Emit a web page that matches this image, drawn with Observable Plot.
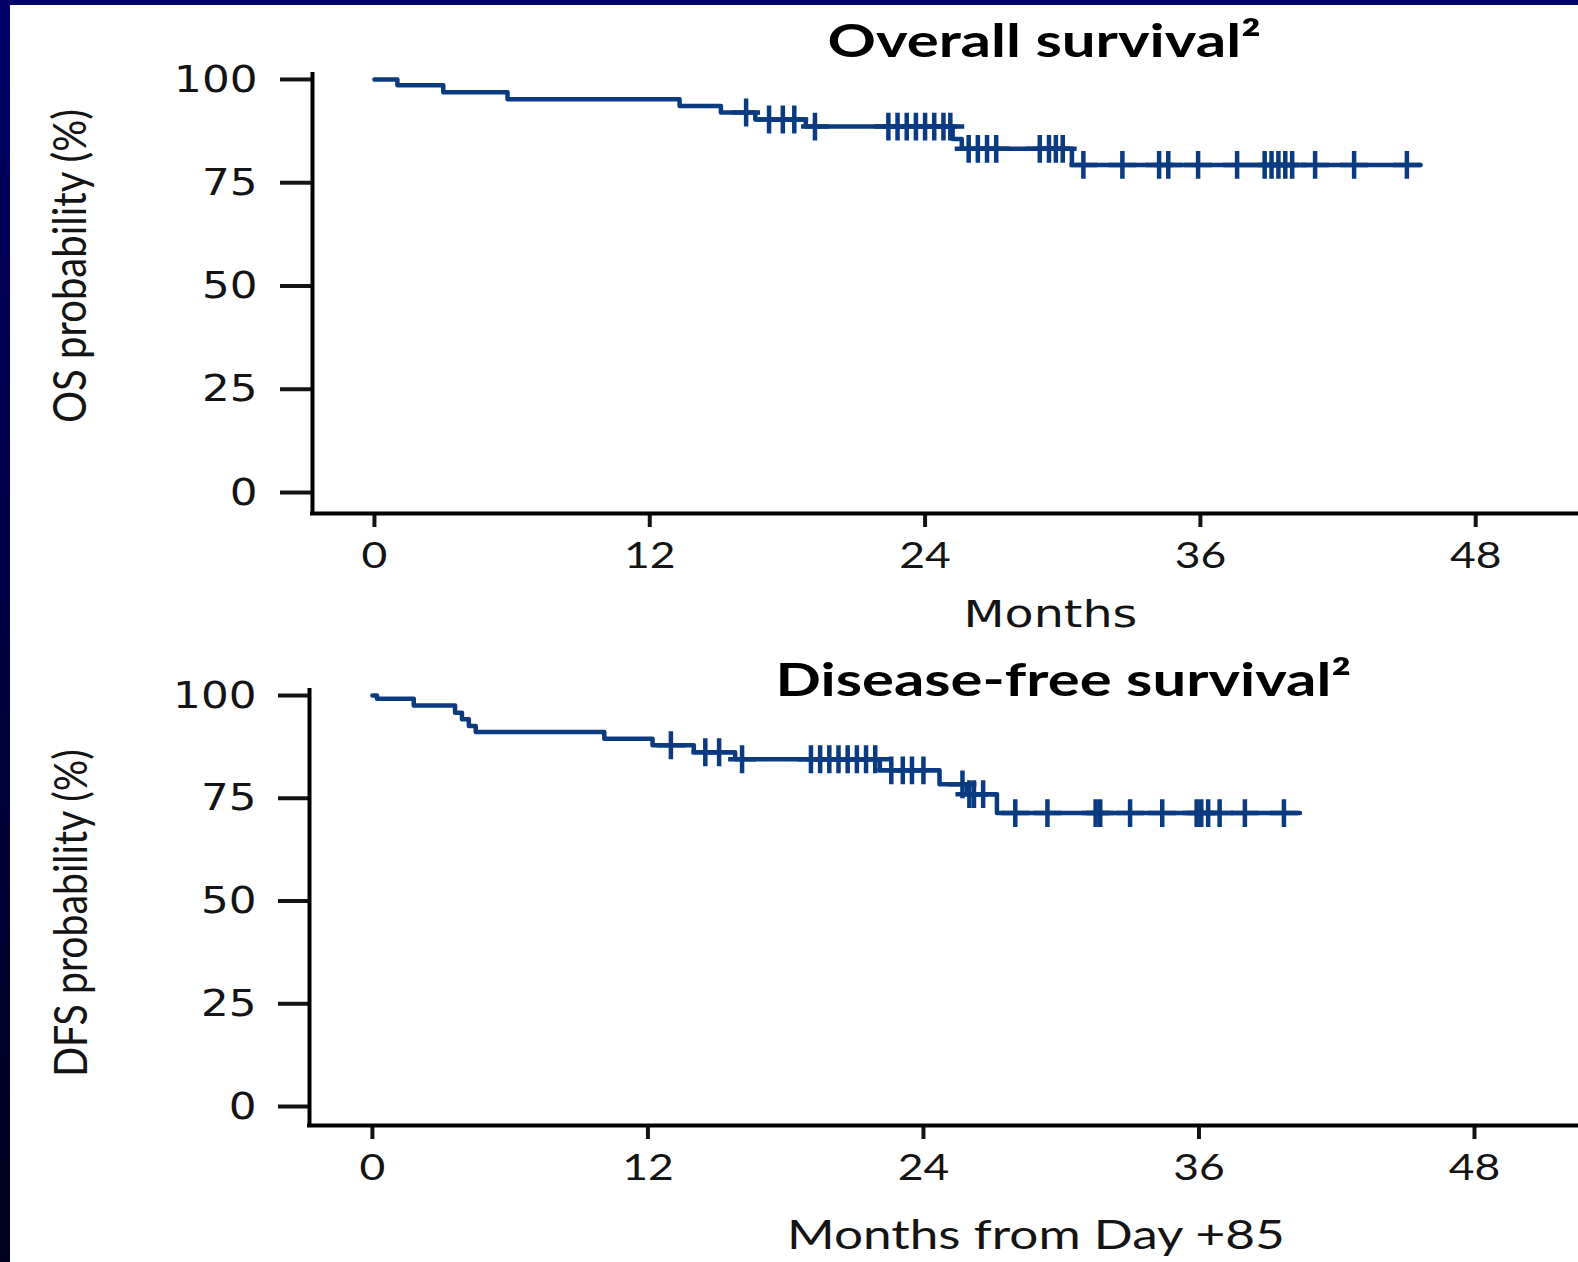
<!DOCTYPE html>
<html><head><meta charset="utf-8">
<script src="https://cdn.jsdelivr.net/npm/d3@7"></script>
<script src="https://cdn.jsdelivr.net/npm/@observablehq/plot@0.6"></script>
<style>
html,body{margin:0;padding:0;background:#fff;}
#page{position:relative;width:1578px;height:1262px;overflow:hidden;background:#fff;}
#topbar{position:absolute;left:0;top:0;width:1578px;height:5px;background:#000066;}
#leftbar{position:absolute;left:0;top:0;width:10px;height:1262px;background:linear-gradient(#000066,#00001e);}
.lbl{position:absolute;white-space:nowrap;color:#141414;line-height:1;transform-origin:center center;}
.panel{position:absolute;left:0;}
</style></head><body>
<div id="page"><div id="topbar"></div><div id="leftbar"></div></div>
<script>
// ---- data ----
const monthTicks = [0, 12, 24, 36, 48];
const pctTicks = [0, 25, 50, 75, 100];

const osTime = [0, 1.0, 3.0, 5.8, 13.3, 15.1, 16.6, 18.8, 25.2, 25.6, 30.4];
const osSurv = [100, 98.6, 96.9, 95.2, 93.6, 92.0, 90.3, 88.6, 85.6, 83.2, 79.3];
const osEnd = 45.6;
const osCensor = [16.2, 17.2, 17.8, 18.3, 19.2, 22.4, 22.8, 23.2, 23.6, 24.0, 24.4, 24.8, 25.1,
  25.9, 26.3, 26.7, 27.1, 29.0, 29.4, 29.7, 30.0, 30.9, 32.6, 34.2, 34.6, 35.9, 37.6,
  38.8, 39.1, 39.4, 39.7, 40.0, 41.0, 42.7, 45.0];

const dfsTime = [0, 0.2, 1.8, 3.6, 3.9, 4.2, 4.5, 10.1, 12.2, 14.0, 15.8, 22.1, 24.7, 25.9, 27.2];
const dfsSurv = [100, 99.2, 97.6, 95.8, 94.2, 92.6, 91.1, 89.5, 87.9, 86.2, 84.5, 81.8, 78.4, 76.0, 71.4];
const dfsEnd = 40.4;
const dfsCensor = [13.0, 14.5, 15.1, 16.1, 19.1, 19.5, 19.9, 20.3, 20.7, 21.1, 21.5, 21.9,
  22.6, 23.1, 23.5, 24.0, 25.7, 26.0, 26.2, 26.6, 28.0, 29.4, 31.5, 31.7, 33.0, 34.4,
  35.9, 36.1, 36.4, 36.9, 38.0, 39.7];

const titles = ["Overall survival\u00b2", "Disease-free survival\u00b2"];
const xLabels = ["Months", "Months from Day +85"];
const yLabels = ["OS probability (%)", "DFS probability (%)"];

// ---- drawing ----
const COLOR = "#0a3a80";
const page = document.getElementById("page");

function survAt(times, surv, t) {
  let v = surv[0];
  for (let i = 0; i < times.length; i++) if (times[i] <= t) v = surv[i];
  return v;
}

function stretchText(svg, sel, sx, anchor) {
  svg.querySelectorAll(sel).forEach(t => {
    const b = t.getBBox();
    const ax = anchor === "end" ? b.x + b.width : b.x + b.width / 2;
    const ay = b.y + b.height / 2;
    const tr = t.getAttribute("transform") || "";
    t.setAttribute("transform", `${tr} translate(${ax},${ay}) scale(${sx},1) translate(${-ax},${-ay})`);
  });
}

function km(times, surv, end, censor, cfg) {
  const steps = times.map((t, i) => ({t, s: surv[i]}));
  steps.push({t: end, s: surv[surv.length - 1]});
  const cens = censor.map(t => ({t, s: survAt(times, surv, t)}));
  const svg = Plot.plot({
    width: 1578, height: cfg.height,
    marginLeft: cfg.ml, marginRight: 0, marginTop: cfg.mt, marginBottom: cfg.mb,
    x: {domain: cfg.xd, label: null},
    y: {domain: cfg.yd, label: null},
    style: {background: "transparent", overflow: "visible"},
    marks: [
      Plot.axisY({ticks: pctTicks, tickSize: cfg.yTick, tickPadding: cfg.yPad, strokeWidth: 4,
        fontSize: 38, fontFamily: "DejaVu Sans", color: "#141414", label: null, tickFormat: d => String(d)}),
      Plot.axisX({ticks: monthTicks, tickSize: 14, tickPadding: 14, strokeWidth: 4,
        fontSize: 37, fontFamily: "Lato", color: "#141414", label: null, tickFormat: d => String(d)}),
      Plot.ruleX([cfg.xd[0]], {stroke: "#000", strokeWidth: 4, strokeLinecap: "square"}),
      Plot.ruleY([cfg.yd[0]], {stroke: "#000", strokeWidth: 4, strokeLinecap: "square"}),
      Plot.line(steps, {x: "t", y: "s", curve: "step-after", stroke: COLOR, strokeWidth: 4.5}),
      Plot.dot(cens, {x: "t", y: "s", symbol: "plus", r: 9, stroke: COLOR, fill: "none", strokeWidth: 4.5})
    ]
  });
  svg.classList.add("panel");
  svg.style.top = cfg.top + "px";
  page.appendChild(svg);
  stretchText(svg, 'g[aria-label="y-axis tick label"] text', 1.15, "end");
  stretchText(svg, 'g[aria-label="x-axis tick label"] text', 1.2, "middle");
  return svg;
}

km(osTime, osSurv, osEnd, osCensor, {
  top: 0, height: 640, ml: 312, mt: 74, mb: 127,
  xd: [-2.7, 52.48], yd: [-5.08, 101.2], yTick: 32, yPad: 23
});
km(dfsTime, dfsSurv, dfsEnd, dfsCensor, {
  top: 640, height: 622, ml: 309, mt: 50, mb: 137,
  xd: [-2.74, 52.53], yd: [-4.62, 101.22], yTick: 31, yPad: 22
});

function label(text, cx, cy, target, o) {
  const d = document.createElement("div");
  d.className = "lbl";
  d.textContent = text;
  d.style.left = cx + "px";
  d.style.top = cy + "px";
  d.style.fontFamily = o.family;
  d.style.fontSize = o.size + "px";
  d.style.fontWeight = o.weight || "normal";
  if (o.color) d.style.color = o.color;
  page.appendChild(d);
  const w = d.offsetWidth;
  const k = target / w;
  d.style.marginLeft = (-w / 2) + "px";
  d.style.marginTop = (-d.offsetHeight / 2) + "px";
  if (o.rotate) d.style.transform = `rotate(-90deg) scale(${k},${o.sy || 1})`;
  else d.style.transform = `scale(${k},1)`;
}

label(titles[0], 1044, 40, 434, {family: "Lato", size: 46, weight: "bold", color: "#000"});
label(titles[1], 1063, 679, 576, {family: "Lato", size: 46, weight: "bold", color: "#000"});
label(xLabels[0], 1050, 614, 174, {family: "DejaVu Sans", size: 38});
label(xLabels[1], 1036, 1234, 498, {family: "Lato", size: 40});
label(yLabels[0], 68, 266, 314, {family: "Lato", size: 38, rotate: true, sy: 1.2});
label(yLabels[1], 68, 913, 327, {family: "Lato", size: 38, rotate: true, sy: 1.2});
</script>
</body></html>
